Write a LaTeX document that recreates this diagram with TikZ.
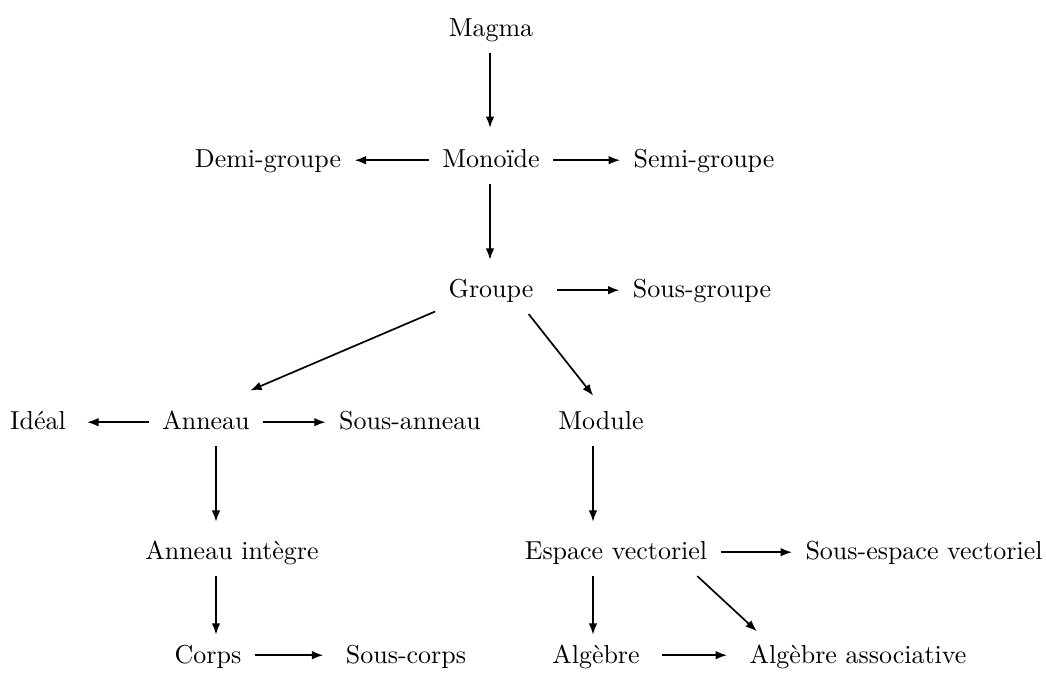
\documentclass[tikz,border=0pt]{standalone}
\usetikzlibrary{arrows.meta}

\tikzset{
  obj/.style={anchor=base, inner xsep=5pt, inner ysep=5pt, text height=7pt, text depth=1pt},
  arr/.style={-{Latex[length=4.4pt,width=3.3pt]}, line width=0.65pt},
}

\begin{document}
\begin{tikzpicture}[x=0.385pt, y=-0.385pt]
  \useasboundingbox (0,0) rectangle (1046,673);
  % columns of the vertical arrows
  \coordinate (colM) at (490,0);
  \coordinate (colL) at (216,0);
  \coordinate (colR) at (593,0);

  \node[obj] (magma) at (491,37) {Magma};
  \node[obj] (demi) at (268,168) {Demi-groupe};
  \node[obj] (monoide) at (491,168) {Monoïde};
  \node[obj] (semi) at (704,168) {Semi-groupe};
  \node[obj] (groupe) at (491,298) {Groupe};
  \node[obj] (sousgroupe) at (702,298) {Sous-groupe};
  \node[obj] (ideal) at (38,430) {Idéal};
  \node[obj] (anneau) at (206,430) {Anneau};
  \node[obj] (sousanneau) at (410,430) {Sous-anneau};
  \node[obj] (module) at (601,430) {Module};
  \node[obj] (integre) at (232,560) {Anneau intègre};
  \node[obj] (ev) at (616,560) {Espace vectoriel};
  \node[obj] (sev) at (924,560) {Sous-espace vectoriel};
  \node[obj] (corps) at (208,663) {Corps};
  \node[obj] (souscorps) at (406,663) {Sous-corps};
  \node[obj] (algebre) at (596,663) {Algèbre};
  \node[obj] (aa) at (858,663) {Algèbre associative};

  \draw[arr, shorten >=3.2pt] (magma.south -| colM) -- (monoide.north -| colM);
  \draw[arr] (monoide) -- (demi);
  \draw[arr] (monoide) -- (semi);
  \draw[arr, shorten >=2.5pt] (monoide.south -| colM) -- (groupe.north -| colM);
  \draw[arr, shorten <=4pt] (groupe) -- (sousgroupe);
  \draw[arr] ([yshift=1pt]groupe.south west) -- ([xshift=-5pt,yshift=3pt]anneau.north east);
  \draw[arr] ([xshift=-7pt]groupe.south east) -- ([xshift=-3pt,yshift=1pt]module.north);
  \draw[arr, shorten >=3pt] (anneau) -- (ideal);
  \draw[arr] (anneau) -- (sousanneau);
  \draw[arr, shorten >=2.5pt] (anneau.south -| colL) -- (integre.north -| colL);
  \draw[arr, shorten >=2.5pt] (module.south -| colR) -- (ev.north -| colR);
  \draw[arr] (ev) -- (sev);
  \draw[arr, shorten >=-1.3pt] (integre.south -| colL) -- (corps.north -| colL);
  \draw[arr, shorten >=-1.3pt] (ev.south -| colR) -- (algebre.north -| colR);
  \draw[arr] ([xshift=-9pt]ev.south east) -- ([xshift=8pt]aa.north west);
  \draw[arr, shorten >=3.5pt] (corps) -- (souscorps);
  \draw[arr, shorten <=3.5pt, shorten >=3.5pt] (algebre) -- (aa);
\end{tikzpicture}
\end{document}
